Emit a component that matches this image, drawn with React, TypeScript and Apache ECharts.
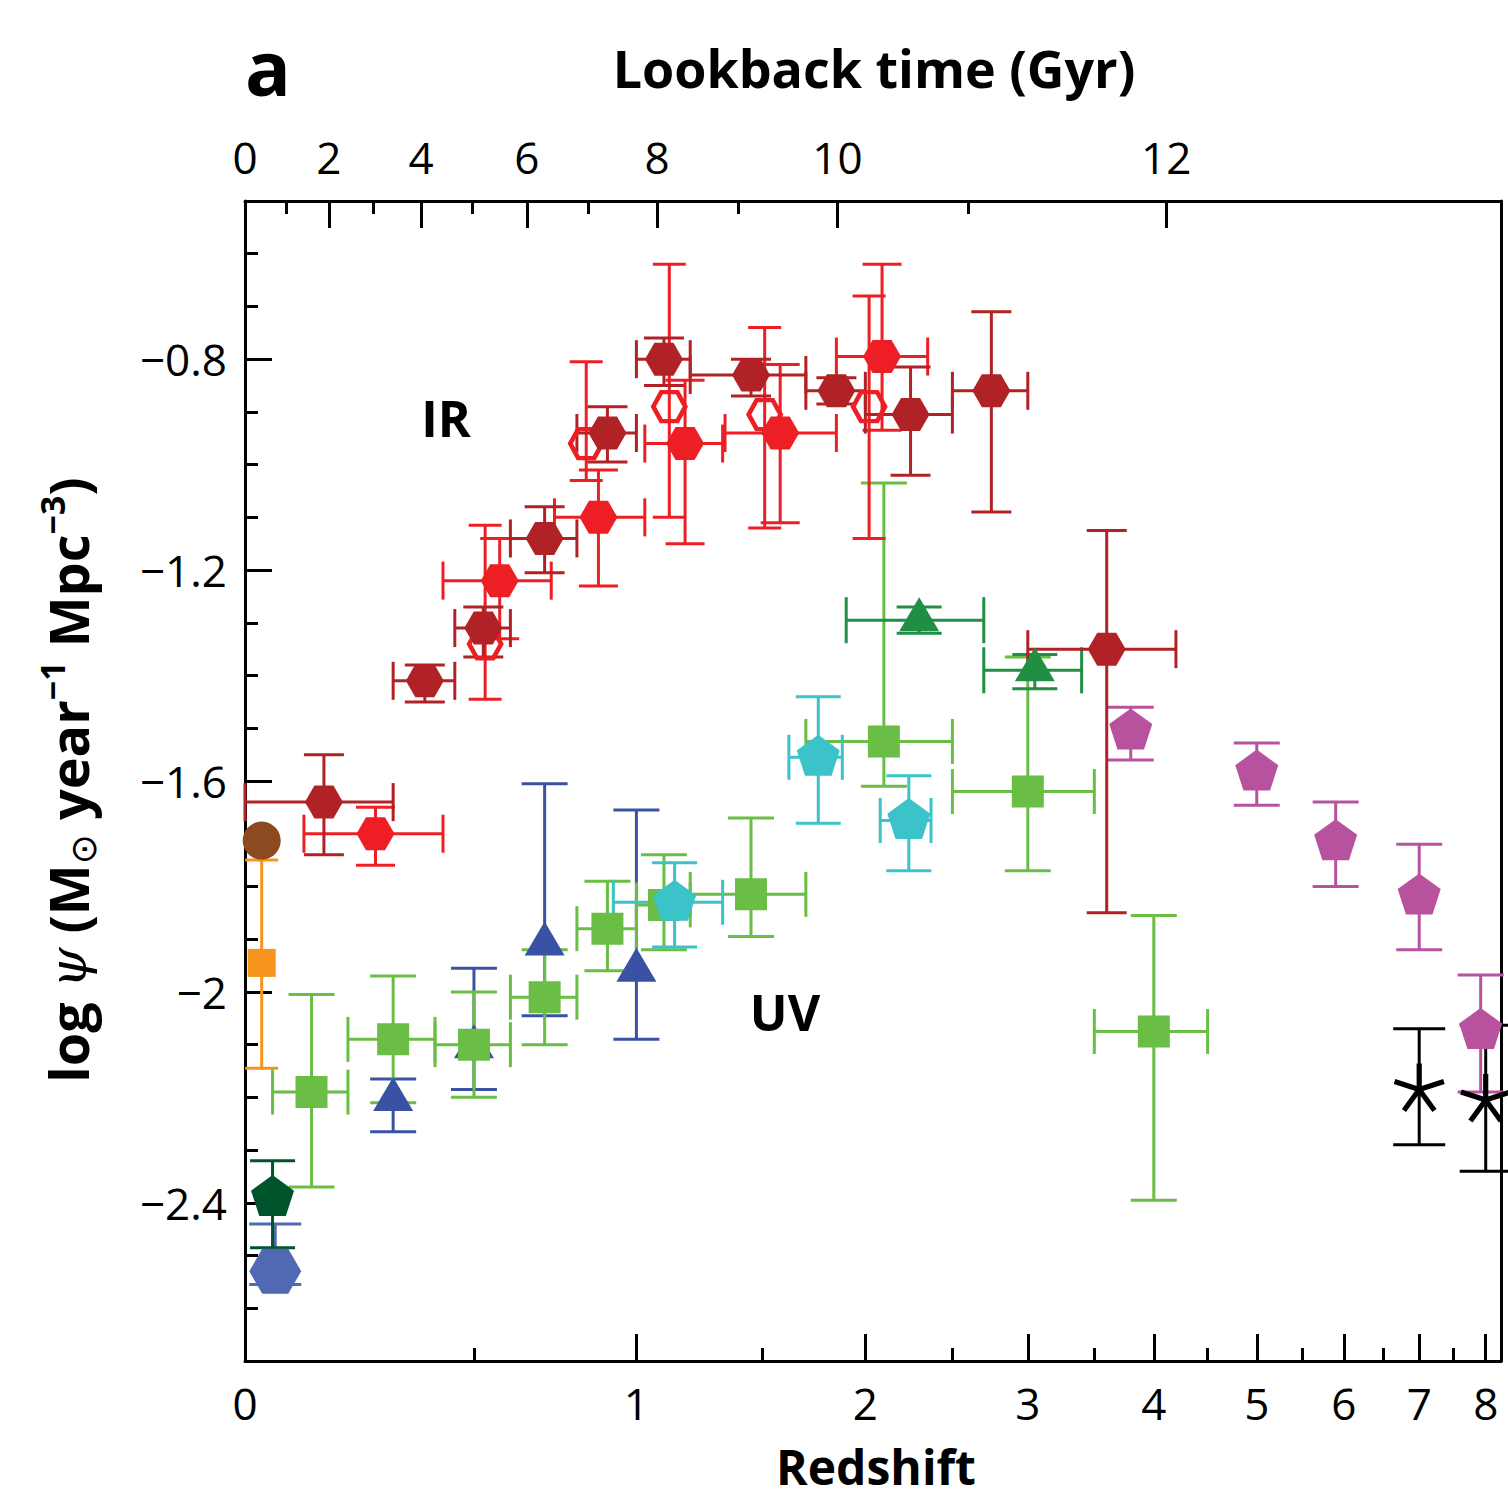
import React, { useEffect, useRef } from 'react';
import * as echarts from 'echarts';

// ---------------- tick labels ----------------
const redshiftTicks = [0, 1, 2, 3, 4, 5, 6, 7, 8];
const redshiftMinorTicks = [0.5, 1.5, 2.5, 3.5, 4.5, 5.5, 6.5, 7.5];
const lookbackTicks = [0, 2, 4, 6, 8, 10, 12];
const lookbackMinorTicks = [1, 3, 5, 7, 9, 11];
const psiTicks = [-2.4, -2.0, -1.6, -1.2, -0.8];
const psiMinorTicks = [-2.6, -2.5, -2.3, -2.2, -2.1, -1.9, -1.8, -1.7, -1.5, -1.4, -1.3, -1.1, -1.0, -0.9, -0.7, -0.6];

// ---------------- UV data ----------------
// Wyder et al. (blue hexagon)
const wyderZ = [0.055];
const wyderPsi = [-2.53];
const wyderHi = [-2.44];
const wyderLo = [-2.555];

// Robotham & Driver (dark green pentagon)
const robZ = [0.05];
const robPsi = [-2.39];
const robHi = [-2.32];
const robLo = [-2.485];

// Schiminovich et al. (dark blue triangles)
const schZ = [0.3, 0.5, 0.7, 1.0];
const schPsi = [-2.205, -2.105, -1.91, -1.96];
const schHi = [-2.165, -1.955, -1.605, -1.655];
const schLo = [-2.265, -2.185, -2.045, -2.09];

// Cucciati et al. (light green squares)
const cucZ = [0.125, 0.3, 0.5, 0.7, 0.9, 1.1, 1.45, 2.1, 3.0, 4.0];
const cucZlo = [0.05, 0.2, 0.4, 0.6, 0.8, 1.0, 1.2, 1.7, 2.5, 3.5];
const cucZhi = [0.2, 0.4, 0.6, 0.8, 1.0, 1.2, 1.7, 2.5, 3.5, 4.5];
const cucPsi = [-2.19, -2.09, -2.1, -2.01, -1.88, -1.835, -1.815, -1.525, -1.62, -2.075];
const cucHi = [-2.005, -1.97, -2.0, -1.92, -1.79, -1.74, -1.67, -1.035, -1.365, -1.855];
const cucLo = [-2.37, -2.21, -2.2, -2.1, -1.96, -1.92, -1.895, -1.61, -1.77, -2.395];

// Dahlen et al. (cyan pentagons)
const dahZ = [1.14, 1.76, 2.24];
const dahZlo = [0.92, 1.62, 2.08];
const dahZhi = [1.33, 1.88, 2.37];
const dahPsi = [-1.83, -1.555, -1.675];
const dahHi = [-1.755, -1.44, -1.59];
const dahLo = [-1.915, -1.68, -1.77];

// Reddy & Steidel (dark green triangles)
const rsZ = [2.3, 3.05];
const rsZlo = [1.9, 2.7];
const rsZhi = [2.7, 3.4];
const rsPsi = [-1.295, -1.39];
const rsHi = [-1.27, -1.36];
const rsLo = [-1.32, -1.425];

// Bouwens et al. (magenta pentagons)
const bouZ = [3.8, 5.0, 5.9, 7.0, 7.92];
const bouPsi = [-1.505, -1.583, -1.715, -1.818, -2.073];
const bouHi = [-1.46, -1.528, -1.64, -1.72, -1.968];
const bouLo = [-1.56, -1.646, -1.8, -1.92, -2.19];

// Schenker et al. (black asterisks)
const schenZ = [7.0, 8.0];
const schenPsi = [-2.185, -2.205];
const schenHi = [-2.07, -2.063];
const schenLo = [-2.29, -2.34];

// ---------------- IR data ----------------
// Sanders et al. (brown circle)
const sandZ = [0.03];
const sandPsi = [-1.713];

// Takeuchi et al. (orange square)
const takZ = [0.03];
const takPsi = [-1.945];
const takHi = [-1.75];
const takLo = [-2.145];

// Magnelli et al. (filled red hexagons)
const magZ = [0.26, 0.57, 0.87, 1.18, 1.58, 2.09];
const magZlo = [0.11, 0.42, 0.73, 1.03, 1.34, 1.85];
const magZhi = [0.42, 0.72, 1.03, 1.33, 1.85, 2.35];
const magPsi = [-1.7, -1.22, -1.1, -0.96, -0.94, -0.795];
const magHi = [-1.65, -1.14, -1.01, -0.84, -0.81, -0.62];
const magLo = [-1.76, -1.33, -1.23, -1.15, -1.11, -0.935];

// Magnelli et al. (open red hexagons)
const magOZ = [0.53, 0.83, 1.12, 1.51, 2.02];
const magOPsi = [-1.34, -0.96, -0.89, -0.905, -0.89];
const magOHi = [-1.115, -0.805, -0.62, -0.74, -0.68];
const magOLo = [-1.445, -1.03, -1.1, -1.12, -1.14];

// Gruppioni et al. (dark red hexagons)
const grZ = [0.15, 0.375, 0.525, 0.7, 0.9, 1.1, 1.45, 1.85, 2.25, 2.75, 3.6];
const grZlo = [0.0, 0.3, 0.45, 0.6, 0.8, 1.0, 1.2, 1.7, 2.0, 2.5, 3.0];
const grZhi = [0.3, 0.45, 0.6, 0.8, 1.0, 1.2, 1.7, 2.0, 2.5, 3.0, 4.2];
const grPsi = [-1.64, -1.41, -1.31, -1.14, -0.94, -0.8, -0.83, -0.86, -0.905, -0.86, -1.35];
const grHi = [-1.55, -1.38, -1.27, -1.08, -0.89, -0.76, -0.8, -0.835, -0.815, -0.71, -1.125];
const grLo = [-1.74, -1.45, -1.365, -1.205, -0.995, -0.85, -0.87, -0.885, -1.02, -1.09, -1.85];

// ---------------- helpers ----------------
const FONT = '"Open Sans", "DejaVu Sans", sans-serif';
const XMAX = 0.966;
const lz = (z: number) => Math.log10(1 + z);

// lookback time -> log10(1+z), flat LCDM (H0=70, Om=0.3, OL=0.7)
const OM = 0.3, OL = 0.7, H0 = 70;
const tH = 977.79 / H0;
const AGE_A = (2 / 3) * tH / Math.sqrt(OL);
const AGE_K = Math.sqrt(OL / OM);
const AGE0 = AGE_A * Math.asinh(AGE_K);
const lbX = (t: number) => {
  const age = AGE0 - t;
  const onePlusZ = Math.pow(Math.sinh(age / AGE_A) / AGE_K, -2 / 3);
  return Math.log10(onePlusZ);
};

const HEX = 'path://M0,433L250,0L750,0L1000,433L750,866L250,866Z';
const PENT = 'path://M500,0L975.5,345.5L793.9,904.5L206.1,904.5L24.5,345.5Z';
function asteriskPath() {
  const R = 100, hw = 10;
  const parts: string[] = [];
  for (const deg of [-90, -18, 54, 126, 198]) {
    const a = (deg * Math.PI) / 180;
    const dx = Math.cos(a), dy = Math.sin(a);
    const px = -dy, py = dx;
    const pts = [
      [px * hw, py * hw],
      [dx * R + px * hw, dy * R + py * hw],
      [dx * R - px * hw, dy * R - py * hw],
      [-px * hw, -py * hw],
    ];
    parts.push('M' + pts.map((p) => (p[0] + 120).toFixed(2) + ',' + (p[1] + 120).toFixed(2)).join('L') + 'Z');
  }
  return 'path://' + parts.join('');
}
const ASTER = asteriskPath();

type Group = {
  name: string;
  z: number[];
  psi: number[];
  hi?: number[];
  lo?: number[];
  zlo?: number[];
  zhi?: number[];
  color: string;
  symbol: string;
  size: number | number[];
  offset?: number[];
  open?: boolean;
  capV: number;
  capH: number;
};

const groups: Group[] = [
  { name: 'Takeuchi', z: takZ, psi: takPsi, hi: takHi, lo: takLo, color: '#f7941d', symbol: 'rect', size: 28, capV: 33, capH: 33 },
  { name: 'Sanders', z: sandZ, psi: sandPsi, color: '#8b4a1f', symbol: 'circle', size: 38, capV: 0, capH: 0 },
  { name: 'Wyder', z: wyderZ, psi: wyderPsi, hi: wyderHi, lo: wyderLo, color: '#4f69b3', symbol: HEX, size: [52, 45], capV: 52, capH: 40 },
  { name: 'Robotham', z: robZ, psi: robPsi, hi: robHi, lo: robLo, color: '#00542b', symbol: PENT, size: [43, 41], offset: [0, -2], capV: 45, capH: 40 },
  { name: 'Schiminovich', z: schZ, psi: schPsi, hi: schHi, lo: schLo, color: '#3a52a3', symbol: 'triangle', size: [40, 34], offset: [0, -6], capV: 46, capH: 40 },
  { name: 'Cucciati', z: cucZ, psi: cucPsi, hi: cucHi, lo: cucLo, zlo: cucZlo, zhi: cucZhi, color: '#6abd45', symbol: 'rect', size: 32, capV: 46, capH: 45 },
  { name: 'Dahlen', z: dahZ, psi: dahPsi, hi: dahHi, lo: dahLo, zlo: dahZlo, zhi: dahZhi, color: '#3bc3c9', symbol: PENT, size: [43, 41], offset: [0, -2], capV: 45, capH: 45 },
  { name: 'Reddy', z: rsZ, psi: rsPsi, hi: rsHi, lo: rsLo, zlo: rsZlo, zhi: rsZhi, color: '#218f43', symbol: 'triangle', size: [40, 34], offset: [0, -6], capV: 45, capH: 46 },
  { name: 'Bouwens', z: bouZ, psi: bouPsi, hi: bouHi, lo: bouLo, color: '#b8529f', symbol: PENT, size: [43, 41], offset: [0, -2], capV: 46, capH: 40 },
  { name: 'MagnelliOpen', z: magOZ, psi: magOPsi, hi: magOHi, lo: magOLo, color: '#ed1f24', symbol: HEX, size: [32, 29], open: true, capV: 33, capH: 33 },
  { name: 'Magnelli', z: magZ, psi: magPsi, hi: magHi, lo: magLo, zlo: magZlo, zhi: magZhi, color: '#ed1f24', symbol: HEX, size: [38, 33], capV: 39, capH: 38 },
  { name: 'Gruppioni', z: grZ, psi: grPsi, hi: grHi, lo: grLo, zlo: grZlo, zhi: grZhi, color: '#b12226', symbol: HEX, size: [38, 33], capV: 40, capH: 38 },
  { name: 'Schenker', z: schenZ, psi: schenPsi, hi: schenHi, lo: schenLo, color: '#000000', symbol: ASTER, size: [51, 48.6], offset: [0, -1.7], capV: 52, capH: 40 },
];

function buildSeries() {
  const series: any[] = [];
  for (const g of groups) {
    const data = g.z.map((z, i) => [lz(z), g.psi[i]]);
    if (g.hi || g.zlo) {
      series.push({
        type: 'custom',
        name: g.name + ' err',
        silent: true,
        data,
        encode: { x: 0, y: 1 },
        renderItem: (params: any, api: any) => {
          const i = params.dataIndex;
          const x = lz(g.z[i]);
          const y = g.psi[i];
          const style = { stroke: g.color, lineWidth: 3, fill: null };
          const children: any[] = [];
          if (g.hi && g.lo) {
            const p1 = api.coord([x, g.hi[i]]);
            const p2 = api.coord([x, g.lo[i]]);
            children.push({ type: 'line', shape: { x1: p1[0], y1: p1[1], x2: p2[0], y2: p2[1] }, style });
            const hc = g.capV / 2;
            children.push({ type: 'line', shape: { x1: p1[0] - hc, y1: p1[1], x2: p1[0] + hc, y2: p1[1] }, style });
            children.push({ type: 'line', shape: { x1: p2[0] - hc, y1: p2[1], x2: p2[0] + hc, y2: p2[1] }, style });
          }
          if (g.zlo && g.zhi) {
            const p3 = api.coord([lz(g.zlo[i]), y]);
            const p4 = api.coord([lz(g.zhi[i]), y]);
            children.push({ type: 'line', shape: { x1: p3[0], y1: p3[1], x2: p4[0], y2: p4[1] }, style });
            const hc = g.capH / 2;
            children.push({ type: 'line', shape: { x1: p3[0], y1: p3[1] - hc, x2: p3[0], y2: p3[1] + hc }, style });
            children.push({ type: 'line', shape: { x1: p4[0], y1: p4[1] - hc, x2: p4[0], y2: p4[1] + hc }, style });
          }
          return { type: 'group', children };
        },
      });
    }
    series.push({
      type: 'scatter',
      name: g.name,
      silent: true,
      data,
      symbol: g.symbol,
      symbolSize: g.size,
      symbolOffset: g.offset || [0, 0],
      itemStyle: g.open
        ? { color: 'rgba(0,0,0,0)', borderColor: g.color, borderWidth: 4.5, opacity: 1 }
        : { color: g.color, opacity: 1 },
    });
  }
  return series;
}

const nearestLabel = (v: number, ticks: number[], f: (t: number) => number) => {
  let best = ticks[0];
  for (const t of ticks) if (Math.abs(f(t) - v) < Math.abs(f(best) - v)) best = t;
  return String(best);
};

const lineStyle = { color: '#000', width: 3 };
const labelStyle = { fontSize: 44, fontFamily: FONT, color: '#000' };

export default function App() {
  const ref = useRef<HTMLDivElement>(null);
  useEffect(() => {
    if (!ref.current) return;
    const chart = echarts.init(ref.current, null, { renderer: 'svg' });
    const option: any = {
      animation: false,
      backgroundColor: '#ffffff',
      grid: { left: 245, top: 201, width: 1256, height: 1160, containLabel: false },
      xAxis: [
        {
          type: 'value', position: 'bottom', min: 0, max: XMAX,
          axisLine: { show: true, onZero: false, lineStyle },
          axisTick: { show: true, inside: true, length: 27, lineStyle, customValues: redshiftTicks.map(lz) },
          axisLabel: {
            show: true, ...labelStyle, margin: 20, customValues: redshiftTicks.map(lz),
            formatter: (v: number) => nearestLabel(v, redshiftTicks, lz),
          },
          splitLine: { show: false },
        },
        {
          type: 'value', position: 'bottom', min: 0, max: XMAX,
          axisLine: { show: false, onZero: false },
          axisTick: { show: true, inside: true, length: 13, lineStyle, customValues: redshiftMinorTicks.map(lz) },
          axisLabel: { show: false },
          splitLine: { show: false },
        },
        {
          type: 'value', position: 'top', min: 0, max: XMAX,
          axisLine: { show: true, onZero: false, lineStyle },
          axisTick: { show: true, inside: true, length: 27, lineStyle, customValues: lookbackTicks.map(lbX) },
          axisLabel: {
            show: true, ...labelStyle, margin: 22, customValues: lookbackTicks.map(lbX),
            formatter: (v: number) => nearestLabel(v, lookbackTicks, lbX),
          },
          splitLine: { show: false },
        },
        {
          type: 'value', position: 'top', min: 0, max: XMAX,
          axisLine: { show: false, onZero: false },
          axisTick: { show: true, inside: true, length: 13, lineStyle, customValues: lookbackMinorTicks.map(lbX) },
          axisLabel: { show: false },
          splitLine: { show: false },
        },
      ],
      yAxis: [
        {
          type: 'value', position: 'left', min: -2.7, max: -0.5,
          axisLine: { show: true, onZero: false, lineStyle },
          axisTick: { show: true, inside: true, length: 27, lineStyle, customValues: psiTicks },
          axisLabel: {
            show: true, ...labelStyle, margin: 18, customValues: psiTicks,
            formatter: (v: number) => '\u2212' + String(Math.round(Math.abs(v) * 10) / 10),
          },
          splitLine: { show: false },
        },
        {
          type: 'value', position: 'left', min: -2.7, max: -0.5,
          axisLine: { show: false, onZero: false },
          axisTick: { show: true, inside: true, length: 13, lineStyle, customValues: psiMinorTicks },
          axisLabel: { show: false },
          splitLine: { show: false },
        },
        {
          type: 'value', position: 'right', min: -2.7, max: -0.5,
          axisLine: { show: true, onZero: false, lineStyle },
          axisTick: { show: false },
          axisLabel: { show: false },
          splitLine: { show: false },
        },
      ],
      series: buildSeries(),
      graphic: [
        { type: 'text', x: 268, y: 66, style: { text: 'a', fontSize: 76, fontWeight: 'bold', fontFamily: FONT, fill: '#000', align: 'center', verticalAlign: 'middle' } },
        { type: 'text', x: 874, y: 67, style: { text: 'Lookback time (Gyr)', fontSize: 52, fontWeight: 'bold', fontFamily: FONT, fill: '#000', align: 'center', verticalAlign: 'middle' } },
        { type: 'text', x: 876, y: 1466, style: { text: 'Redshift', fontSize: 48, fontWeight: 'bold', fontFamily: FONT, fill: '#000', align: 'center', verticalAlign: 'middle' } },
        { type: 'text', x: 446, y: 418, style: { text: 'IR', fontSize: 50, fontWeight: 'bold', fontFamily: FONT, fill: '#000', align: 'center', verticalAlign: 'middle' } },
        { type: 'text', x: 785, y: 1012, style: { text: 'UV', fontSize: 50, fontWeight: 'bold', fontFamily: FONT, fill: '#000', align: 'center', verticalAlign: 'middle' } },
        {
          type: 'text', x: 68, y: 780, rotation: Math.PI / 2,
          style: {
            text: '{b|log }{psi|\u03C8}{b| (M}{sub|\u2299}{b| year}{sup|\u22121}{b| Mpc}{sup|\u22123}{b|)}',
            align: 'center', verticalAlign: 'middle', fill: '#000',
            fontSize: 54, fontFamily: FONT,
            rich: {
              b: { fontSize: 54, fontWeight: 'bold', fontFamily: FONT, lineHeight: 66, verticalAlign: 'middle', fill: '#000' },
              psi: { fontSize: 52, fontStyle: 'italic', fontFamily: '"DejaVu Serif", serif', lineHeight: 66, verticalAlign: 'middle', fill: '#000' },
              sub: { fontSize: 36, fontFamily: '"DejaVu Sans", sans-serif', lineHeight: 44, verticalAlign: 'bottom', fill: '#000' },
              sup: { fontSize: 34, fontWeight: 'bold', fontFamily: FONT, lineHeight: 40, verticalAlign: 'top', fill: '#000' },
            },
          },
        },
      ],
    };
    chart.setOption(option);
    return () => chart.dispose();
  }, []);
  return <div ref={ref} style={{ position: 'absolute', left: 0, top: 0, width: 1508, height: 1501 }} />;
}
